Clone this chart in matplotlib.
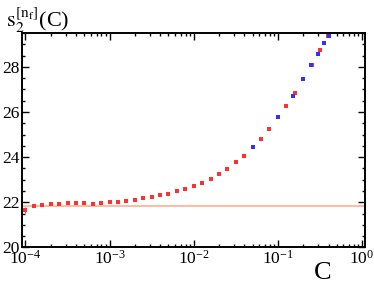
import numpy as np
import matplotlib
matplotlib.use("Agg")
import matplotlib.pyplot as plt
from matplotlib.ticker import LogLocator, MultipleLocator, NullFormatter

plt.rcParams['font.family'] = ['Liberation Serif', 'DejaVu Serif']
plt.rcParams['mathtext.fontset'] = 'stix'

# red series: C = 10^(-4 + 0.1 k)
red_logc = np.arange(0, 37) * 0.1 - 4.0
red_vals = [21.66, 21.84, 21.88, 21.91, 21.91, 21.96, 21.96, 21.96, 21.91, 21.98,
            22.03, 22.03, 22.07, 22.12, 22.19, 22.23, 22.32, 22.38, 22.49, 22.60,
            22.73, 22.87, 23.04, 23.25, 23.49, 23.77, 24.06, 24.44, 24.81, 25.24,
            25.77, 26.26, 26.84, 27.46, 28.08, 28.73, 29.37]
red_err = [0.12, 0.03, 0.03, 0.02] + [0.0] * 33

# blue series: C = 0.05 ... 0.4
blue_c = [0.05, 0.10, 0.15, 0.20, 0.25, 0.30, 0.35, 0.40]
blue_vals = [24.44, 25.77, 26.71, 27.46, 28.08, 28.58, 29.04, 29.39]

asymptote = 21.85

fig = plt.figure(figsize=(3.74, 2.85), dpi=100)
ax = fig.add_axes([0.059, 0.132, 0.918, 0.752])

ax.axhline(asymptote, color='#ffbb9c', lw=1.4, zorder=1)
ax.errorbar(10 ** red_logc, red_vals, yerr=red_err, fmt='s', ms=2.5,
            color='#ff3030', ecolor='#ff3030', elinewidth=0.8, capsize=0,
            mew=0, zorder=3)
ax.plot(blue_c, blue_vals, 's', ms=2.5, color='#3030ff', mew=0, zorder=4)

ax.set_xscale('log')
ax.set_xlim(10 ** -4.04, 10 ** 0.04)
ax.set_ylim(20, 29.5)

ax.xaxis.set_major_locator(LogLocator(base=10, numticks=10))
ax.xaxis.set_minor_locator(LogLocator(base=10, subs=np.arange(2, 10), numticks=50))
ax.xaxis.set_minor_formatter(NullFormatter())
ax.yaxis.set_major_locator(MultipleLocator(2))
ax.yaxis.set_minor_locator(MultipleLocator(0.5))

ax.tick_params(which='both', direction='in', top=True, right=True, width=1.0,
               labelsize=12.5, pad=2)
ax.tick_params(which='major', length=5)
ax.tick_params(which='minor', length=2.5)
for s in ax.spines.values():
    s.set_linewidth(1.4)

fig.text(0.838, 0.02, 'C', fontsize=19)
fig.text(0.015, 0.905, r'$\mathrm{s}_2^{[\mathrm{n_f}]}$(C)', fontsize=16)

fig.savefig('out.png', dpi=100)
